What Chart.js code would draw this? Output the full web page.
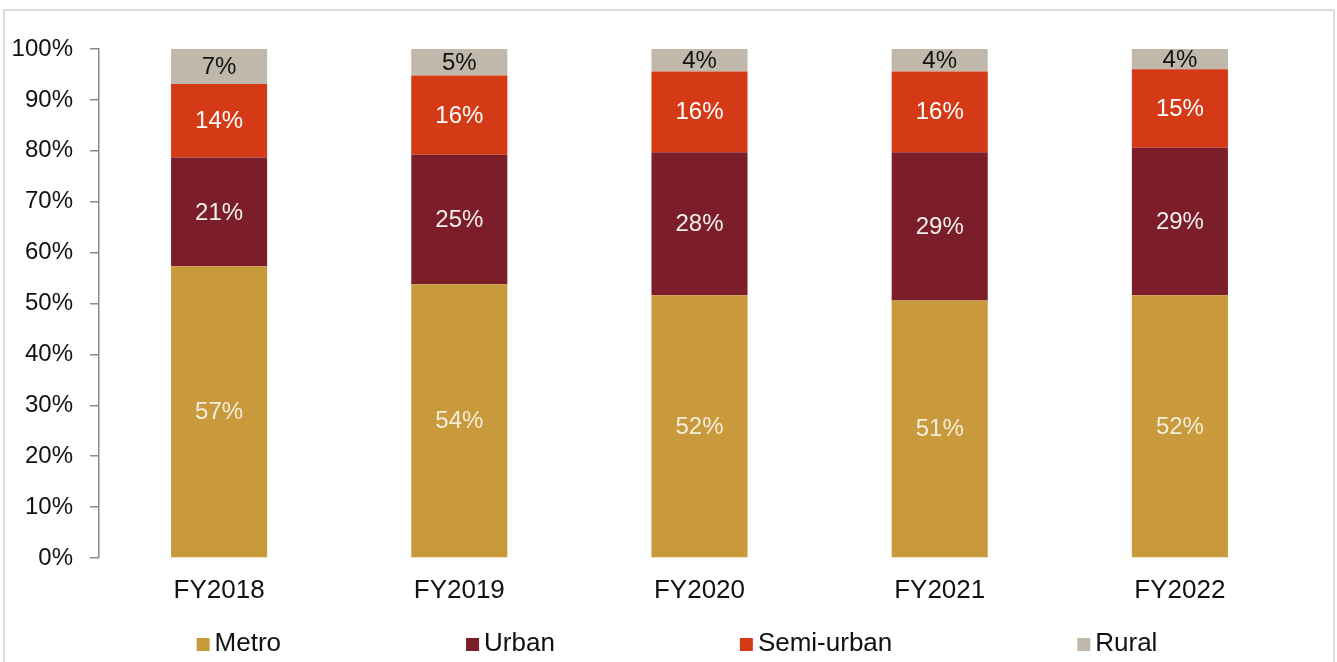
<!DOCTYPE html>
<html>
<head>
<meta charset="utf-8">
<script src="https://cdn.jsdelivr.net/npm/chart.js@4/dist/chart.umd.min.js"></script>
<style>
  html, body { margin: 0; padding: 0; background: #fff; }
  #wrap { position: relative; width: 1337px; height: 662px; overflow: hidden; }
  #frame { position: absolute; left: 3px; top: 9px; width: 1328px; height: 700px;
           border: 2px solid #dcdcdc; pointer-events: none; }
  canvas { position: absolute; left: 0; top: 0; }
</style>
</head>
<body>
<div id="wrap">
  <canvas id="chartCanvas" width="1337" height="662"></canvas>
  <div id="frame"></div>
</div>
<script>
// -------- DATA --------
const years = ['FY2018', 'FY2019', 'FY2020', 'FY2021', 'FY2022'];
const metro = [57.3, 53.8, 51.6, 50.6, 51.6];
const urban = [21.4, 25.4, 28.1, 29.1, 29.0];
const semiUrban = [14.4, 15.6, 15.9, 15.9, 15.4];
const rural = [6.9, 5.2, 4.4, 4.4, 4.0];
const yTicks = [0, 10, 20, 30, 40, 50, 60, 70, 80, 90, 100];

const FONT = '"Liberation Sans", Arial, sans-serif';
const INK = '#111111';

const series = [
    { label: 'Metro', data: metro, color: '#C89A3B', text: '#f4ecdc' },
    { label: 'Urban', data: urban, color: '#7B1E2A', text: '#f2eeee' },
    { label: 'Semi-urban', data: semiUrban, color: '#D53A17', text: '#ffffff' },
    { label: 'Rural', data: rural, color: '#C0B8AA', text: INK }
];

// values printed in the middle of each segment
const segmentLabels = {
    id: 'segmentLabels',
    afterDatasetsDraw(chart) {
        const ctx = chart.ctx;
        ctx.save();
        ctx.font = '24px ' + FONT;
        ctx.textAlign = 'center';
        ctx.textBaseline = 'middle';
        chart.data.datasets.forEach((ds, i) => {
            const meta = chart.getDatasetMeta(i);
            meta.data.forEach((bar, j) => {
                ctx.fillStyle = series[i].text;
                ctx.fillText(Math.round(ds.data[j]) + '%', bar.x, (bar.y + bar.base) / 2 + 1);
            });
        });
        ctx.restore();
    }
};

// legend row along the bottom, items spaced wide apart
const wideLegend = {
    id: 'wideLegend',
    afterDraw(chart) {
        const ctx = chart.ctx;
        ctx.save();
        ctx.font = '26px ' + FONT;
        ctx.textBaseline = 'middle';
        const box = 13, gapText = 5, gapItem = 185, y = 644;
        const widths = series.map(s => box + gapText + ctx.measureText(s.label).width);
        const total = widths.reduce((a, b) => a + b, 0) + gapItem * (series.length - 1);
        let x = 677 - total / 2;
        series.forEach((s, i) => {
            ctx.fillStyle = s.color;
            ctx.fillRect(x, y - 6, box, box);
            ctx.fillStyle = INK;
            ctx.textAlign = 'left';
            ctx.fillText(s.label, x + box + gapText, y);
            x += widths[i] + gapItem;
        });
        ctx.restore();
    }
};

const chartCtx = document.getElementById('chartCanvas').getContext('2d');
window.shareChart = new Chart(chartCtx, {
    type: 'bar',
    data: {
        labels: years,
        datasets: series.map(s => ({
            label: s.label,
            data: s.data,
            backgroundColor: s.color,
            borderWidth: 0,
            categoryPercentage: 1,
            barPercentage: 0.4
        }))
    },
    options: {
        responsive: false,
        animation: false,
        layout: { padding: { top: 49, right: 37, left: 0, bottom: 0 } },
        plugins: {
            legend: { display: false },
            tooltip: { enabled: false }
        },
        scales: {
            x: {
                stacked: true,
                grid: { display: false, drawTicks: false },
                border: { display: false },
                ticks: { color: INK, font: { family: FONT, size: 26 }, padding: 17 },
                afterFit(scale) { scale.height = 104; }
            },
            y: {
                stacked: true,
                min: 0,
                max: 100,
                afterBuildTicks(scale) { scale.ticks = yTicks.map(v => ({ value: v })); },
                grid: { drawOnChartArea: false, drawTicks: true, tickLength: 9, color: '#8a8a8a', lineWidth: 1.5 },
                border: { display: true, color: '#8a8a8a', width: 1.5 },
                ticks: {
                    color: INK,
                    font: { family: FONT, size: 24 },
                    padding: 17,
                    callback: v => v + '%'
                },
                afterFit(scale) { scale.width = 99; }
            }
        }
    },
    plugins: [segmentLabels, wideLegend]
});
</script>
</body>
</html>
